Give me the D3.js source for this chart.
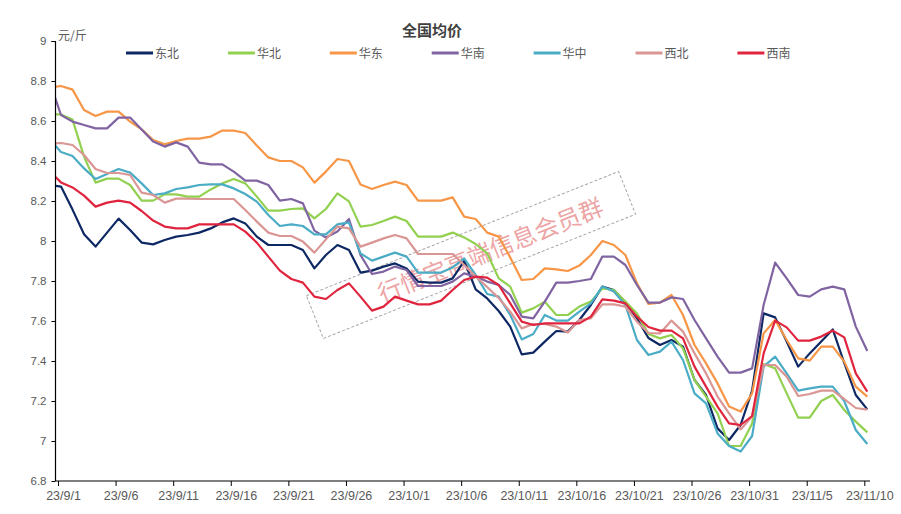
<!DOCTYPE html>
<html><head><meta charset="utf-8">
<script src="https://cdn.jsdelivr.net/npm/d3@7/dist/d3.min.js"></script>
<style>
body{margin:0;background:#fff;}
svg{display:block;font-family:"Liberation Sans",Arial,"Noto Sans CJK SC",sans-serif;}
</style></head><body>
<svg id="chart" width="901" height="514"></svg>
<script>
// first category (23/8/31) lies just outside the visible axis and is clipped
const firstDate = new Date(2023, 7, 31);
const lastDate = new Date(2023, 10, 10);
const tickLabels = ["23/9/1","23/9/6","23/9/11","23/9/16","23/9/21","23/9/26","23/10/1","23/10/6","23/10/11","23/10/16","23/10/21","23/10/26","23/10/31","23/11/5","23/11/10"];
const yTicks = [6.8,7,7.2,7.4,7.6,7.8,8,8.2,8.4,8.6,8.8,9];
const seriesNames = ["东北","华北","华东","华南","华中","西北","西南"];
const seriesColors = ["#0E2864","#92D050","#F79646","#8064A2","#4BACC6","#DA9694","#E0243E"];

const dongbei = [8.28,8.272,8.157,8.034,7.972,8.042,8.112,8.055,7.992,7.983,8.005,8.022,8.03,8.042,8.063,8.093,8.113,8.088,8.022,7.98,7.98,7.98,7.955,7.863,7.93,7.98,7.955,7.842,7.852,7.872,7.888,7.863,7.797,7.792,7.792,7.813,7.9,7.758,7.713,7.65,7.572,7.433,7.442,7.497,7.55,7.547,7.605,7.68,7.772,7.755,7.692,7.613,7.515,7.48,7.505,7.472,7.305,7.23,7.063,7.005,7.08,7.252,7.638,7.618,7.497,7.372,7.438,7.497,7.558,7.39,7.23,7.158];
const huabei = [8.633,8.633,8.607,8.422,8.292,8.312,8.312,8.28,8.202,8.202,8.233,8.233,8.222,8.222,8.258,8.288,8.31,8.288,8.222,8.152,8.152,8.16,8.163,8.113,8.16,8.238,8.198,8.072,8.08,8.1,8.122,8.1,8.022,8.022,8.022,8.042,8.018,7.985,7.938,7.813,7.772,7.642,7.663,7.697,7.63,7.63,7.672,7.697,7.763,7.755,7.697,7.638,7.535,7.513,7.53,7.463,7.305,7.222,7.138,6.975,6.975,7.088,7.385,7.363,7.238,7.117,7.117,7.2,7.23,7.155,7.097,7.043];
const huadong = [8.768,8.775,8.757,8.655,8.625,8.647,8.647,8.597,8.558,8.505,8.483,8.5,8.512,8.512,8.522,8.552,8.552,8.54,8.477,8.418,8.4,8.4,8.368,8.292,8.347,8.41,8.4,8.283,8.26,8.28,8.297,8.28,8.202,8.202,8.202,8.218,8.122,8.11,8.042,8.022,7.918,7.805,7.81,7.863,7.858,7.85,7.877,7.93,8.0,7.98,7.93,7.788,7.685,7.692,7.73,7.63,7.48,7.388,7.288,7.172,7.147,7.238,7.538,7.605,7.505,7.413,7.402,7.472,7.472,7.397,7.272,7.222];
const huanan = [8.80,8.63,8.597,8.58,8.563,8.563,8.617,8.617,8.558,8.497,8.472,8.493,8.472,8.392,8.383,8.383,8.347,8.302,8.302,8.28,8.202,8.21,8.188,8.052,8.017,8.047,8.11,7.93,7.835,7.847,7.872,7.855,7.775,7.775,7.775,7.797,7.838,7.822,7.797,7.78,7.73,7.622,7.613,7.697,7.792,7.792,7.8,7.81,7.922,7.922,7.88,7.78,7.692,7.692,7.718,7.71,7.605,7.513,7.422,7.342,7.342,7.363,7.68,7.892,7.813,7.73,7.722,7.758,7.772,7.758,7.572,7.45];
const huazhong = [8.51,8.445,8.425,8.363,8.31,8.335,8.36,8.342,8.288,8.23,8.238,8.26,8.268,8.28,8.283,8.283,8.263,8.235,8.197,8.13,8.075,8.083,8.075,8.033,8.033,8.083,8.093,7.938,7.902,7.922,7.942,7.922,7.842,7.842,7.842,7.868,7.913,7.83,7.735,7.722,7.63,7.508,7.535,7.63,7.602,7.602,7.647,7.688,7.772,7.747,7.68,7.505,7.43,7.447,7.497,7.405,7.238,7.188,7.038,6.975,6.947,7.025,7.372,7.422,7.338,7.252,7.263,7.272,7.272,7.2,7.055,6.985];
const xibei = [8.485,8.49,8.48,8.43,8.36,8.34,8.34,8.33,8.242,8.23,8.192,8.212,8.212,8.21,8.21,8.21,8.21,8.155,8.097,8.042,8.025,8.025,7.997,7.942,8.008,8.072,8.063,7.972,7.992,8.013,8.03,8.013,7.935,7.935,7.935,7.935,7.88,7.822,7.77,7.715,7.647,7.563,7.585,7.585,7.572,7.542,7.605,7.613,7.683,7.683,7.672,7.597,7.54,7.538,7.602,7.547,7.438,7.338,7.222,7.138,7.058,7.122,7.38,7.38,7.322,7.225,7.235,7.252,7.252,7.21,7.165,7.157];
const xinan = [8.35,8.293,8.268,8.227,8.172,8.192,8.202,8.192,8.15,8.102,8.072,8.063,8.063,8.083,8.083,8.083,8.083,8.047,7.992,7.922,7.852,7.81,7.792,7.722,7.71,7.755,7.788,7.722,7.652,7.672,7.722,7.702,7.683,7.683,7.702,7.755,7.805,7.822,7.817,7.78,7.688,7.597,7.58,7.588,7.588,7.588,7.588,7.622,7.708,7.702,7.688,7.622,7.57,7.552,7.552,7.513,7.372,7.272,7.172,7.088,7.08,7.125,7.438,7.602,7.568,7.502,7.502,7.522,7.552,7.518,7.338,7.247];

const seriesValues = [dongbei, huabei, huadong, huanan, huazhong, xibei, xinan];
const dates = d3.timeDay.range(firstDate, d3.timeDay.offset(lastDate, 1));
const tickDates = tickLabels.map((_, i) => d3.timeDay.offset(new Date(2023, 8, 1), i * 5));

const svg = d3.select("#chart");
const x = d3.scaleTime().domain([new Date(2023, 8, 1), lastDate]).range([61, 867.3]);
const y = d3.scaleLinear().domain([6.8, 9]).range([481, 41]);
const axisLeft = 55.5, axisRight = 870;

svg.append("defs").append("clipPath").attr("id", "plotclip")
  .append("rect").attr("x", axisLeft + 0.5).attr("y", 0).attr("width", axisRight - axisLeft).attr("height", 514);

// title & unit
svg.append("text").attr("x", 432).attr("y", 36).attr("text-anchor", "middle")
  .attr("font-family", "'Noto Sans CJK SC',sans-serif").attr("font-weight", "bold")
  .attr("font-size", 15).attr("fill", "#404040").text("全国均价");
svg.append("text").attr("x", 58).attr("y", 40)
  .attr("font-family", "'Noto Sans CJK SC',sans-serif")
  .attr("font-size", 12).attr("fill", "#595959").text("元/斤");

// legend
const leg = svg.append("g").selectAll("g").data(seriesNames).join("g")
  .attr("transform", (d, i) => `translate(${126 + i * 101.9},53)`);
leg.append("line").attr("x1", 0).attr("x2", 27).attr("y1", 0).attr("y2", 0)
  .attr("stroke", (d, i) => seriesColors[i]).attr("stroke-width", 3);
leg.append("text").attr("x", 29).attr("y", 4.5)
  .attr("font-family", "'Noto Sans CJK SC',sans-serif")
  .attr("font-size", 12).attr("fill", "#595959").text(d => d);

// watermark box
const wm = svg.append("g").attr("transform", "translate(471,255) rotate(-21.7)");
wm.append("rect").attr("x", -168).attr("y", -23).attr("width", 336).attr("height", 46)
  .attr("fill", "none").attr("stroke", "#A6A6A6").attr("stroke-width", 1).attr("stroke-dasharray", "3,2");

// series lines
const line = d3.line().x((d, i) => x(dates[i])).y(d => y(d));
svg.append("g").attr("clip-path", "url(#plotclip)").selectAll("path").data(seriesValues).join("path")
  .attr("d", d => line(d)).attr("fill", "none")
  .attr("stroke", (d, i) => seriesColors[i]).attr("stroke-width", 2.2)
  .attr("stroke-linejoin", "round");

// watermark text
wm.append("text").attr("x", 20).attr("y", 1).attr("text-anchor", "middle").attr("dominant-baseline", "central")
  .attr("font-family", "'Noto Sans CJK SC',sans-serif").attr("font-size", 24)
  .attr("fill", "#E06666").attr("fill-opacity", 0.6).text("行情宝高端信息会员群");

// y axis
const yAxis = svg.append("g").attr("transform", `translate(${axisLeft},0)`)
  .call(d3.axisLeft(y).tickValues(yTicks).tickSize(4).tickPadding(5).tickFormat(d3.format("~g")));
yAxis.select(".domain").attr("stroke", "#000").attr("stroke-width", 1.2).attr("d", `M-4,41.5H0V481`);
yAxis.selectAll(".tick line").attr("stroke", "#000");
yAxis.selectAll(".tick text").attr("fill", "#595959").attr("font-size", 11.5);

// x axis
const xAxis = svg.append("g").attr("transform", "translate(0,481)")
  .call(d3.axisBottom(x).tickValues(tickDates).tickSize(5).tickPadding(5).tickFormat((d, i) => tickLabels[i]));
xAxis.select(".domain").attr("stroke", "#000").attr("stroke-width", 1.2).attr("d", `M${axisLeft},0H${axisRight}`);
xAxis.selectAll(".tick line").attr("stroke", "#000").attr("transform", "translate(-3,0)");
xAxis.selectAll(".tick text").attr("fill", "#595959").attr("font-size", 12.5).attr("dx", 2);
</script>
</body></html>
